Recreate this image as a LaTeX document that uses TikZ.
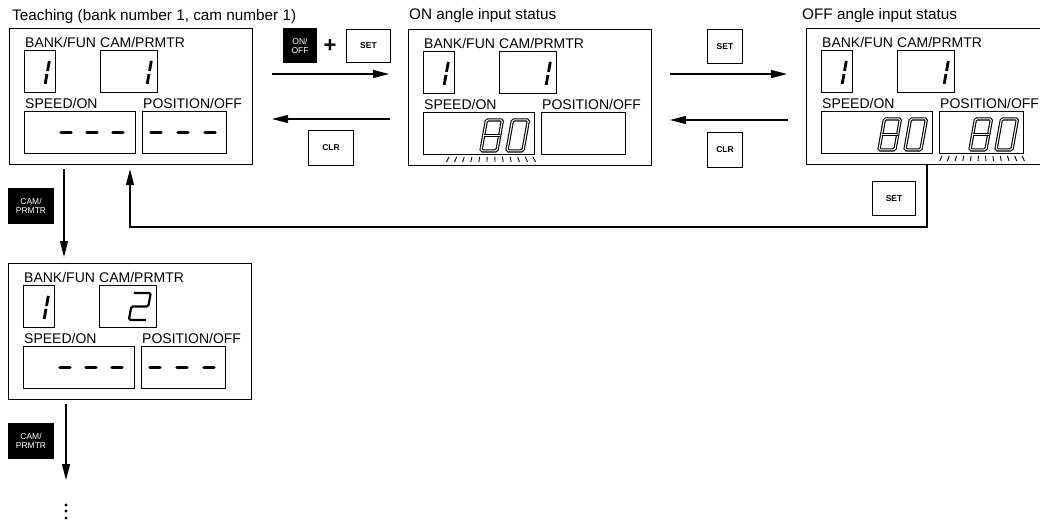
\documentclass[tikz,border=0pt]{standalone}
\usepackage{fontspec}
\setmainfont{Liberation Sans}
\usetikzlibrary{arrows.meta}

\tikzset{
  panel/.style={draw, line width=1.2pt, anchor=north west, minimum width=243pt, minimum height=136pt, inner sep=0pt},
  disp/.style={draw, line width=0.9pt, anchor=north west, minimum height=42pt, inner sep=0pt},
  lbl/.style={anchor=base west, inner sep=0pt, font=\fontsize{14}{14}\selectfont},
  heading/.style={anchor=base west, inner sep=0pt, font=\fontsize{15.3}{15.3}\selectfont},
  key/.style={draw, line width=1pt, anchor=north west, inner sep=0pt, font=\bfseries\fontsize{8.5}{9}\selectfont},
  blackkey/.style={key, fill=black, text=white, align=center, font=\fontsize{8.5}{9}\selectfont},
  flow/.style={->, line width=1.2pt},
  seg/.style={line width=2.8pt},
  lit/.style={double, line width=1.1pt, double distance=1.1pt, rounded corners=1.5pt},
  bar/.style={line width=3.4pt, line cap=round},
  tick/.style={line width=0.9pt},
  digit/.style={xslant=0.18},
  pics/one/.style={code={\draw[seg] (0,-1) -- (0,-11) (0,-14) -- (0,-24);}},
  pics/two/.style={code={\draw[line width=2.2pt, rounded corners=1.5pt] (0,-27) -- (17,-27) -- (17,-13.5) -- (0,-13.5) -- (0,0) -- (17,0);}},
  pics/eight/.style={code={\draw[lit] (0,0) rectangle (16,-31); \draw[lit] (0,-15.5) -- (16,-15.5);}},
  pics/zero/.style={code={\draw[lit] (0,0) rectangle (16,-31);}},
}

\begin{document}
\begin{tikzpicture}[x=1pt, y=-1pt, >={Triangle[length=16pt, width=8pt]}]
    \useasboundingbox (0,0) rectangle (1040,525);
    \clip (0,0) rectangle (1040,525);

    % Titles of the three states
    \node[heading] (t1) at (12,20) {Teaching (bank number 1, cam number 1)};
    \node[heading] (t2) at (409,19) {ON angle input status};
    \node[heading] (t3) at (802,19) {OFF angle input status};

    % 1. Display panels (same layout four times)
    \foreach \n/\x/\y in {p1/9/28, p2/408/29, p3/806/28, p4/8/263} {
        \node[panel] (\n) at (\x,\y) {};
        \node[disp, minimum width=31pt] (\n-bank) at (\x+15,\y+22) {};
        \node[disp, minimum width=57pt] (\n-cam) at (\x+91,\y+22) {};
        \node[disp, minimum width=111pt] (\n-speed) at (\x+15,\y+83) {};
        \node[disp, minimum width=84pt] (\n-pos) at (\x+133,\y+83) {};
        \node[lbl] (\n-lb) at ([shift={(1pt,3pt)}]\n-bank.north west) {BANK/FUN};
        \node[lbl] (\n-lc) at ([shift={(0pt,3pt)}]\n-cam.north west) {CAM/PRMTR};
        \node[lbl] (\n-ls) at ([shift={(1pt,3pt)}]\n-speed.north west) {SPEED/ON};
        \node[lbl] (\n-lp) at ([shift={(1pt,3pt)}]\n-pos.north west) {POSITION/OFF};
    }

    % Segment digits
    \foreach \n in {p1,p2,p3,p4} \pic[digit] at ([shift={(21pt,8pt)}]\n-bank.south west) {one};
    \foreach \n in {p1,p2,p3} \pic[digit] at ([shift={(47pt,8pt)}]\n-cam.south west) {one};
    \pic[digit] at ([shift={(-28pt,8pt)}]p4-cam.south east) {two};
    \foreach \b in {p2-speed,p3-speed,p3-pos} {
        \pic[digit] at ([shift={(-54pt,4pt)}]\b.south east) {eight};
        \pic[digit] at ([shift={(-28pt,4pt)}]\b.south east) {zero};
    }

    % Empty values "- - -"
    \foreach \n in {p1,p4} {
        \foreach \c in {42,68,94} \draw[bar] ([xshift=\c-5]\n-speed.west) -- ++(10,0);
        \foreach \c in {14,41,68} \draw[bar] ([xshift=\c-5]\n-pos.west) -- ++(10,0);
    }

    % Blinking marks under the value being set
    \foreach \b/\s/\e in {p2-speed/26/110, p3-pos/3/83} {
        \begin{scope}[shift={(\b.south west)}]
            \foreach \i in {0,...,11} {
                \pgfmathsetmacro\tx{\s+\i*(\e-\s)/11}
                \pgfmathsetmacro\tb{\tx+(\tx-(\s+\e)/2)*0.06}
                \draw[tick] (\tx,2) -- (\tb,7);
            }
        \end{scope}
    }

    % 2. Keys
    \node[blackkey, minimum width=33pt, minimum height=34pt] (onoff) at (283,28) {ON/\\OFF};
    \node (plus) at (330,46) {\bfseries\fontsize{22}{22}\selectfont +};
    \node[key, minimum width=44pt, minimum height=33pt] (set1) at (346,29) {SET};
    \node[key, minimum width=45pt, minimum height=35pt] (clr1) at (308,130) {CLR};
    \node[key, minimum width=35pt, minimum height=34pt] (set2) at (707,29) {SET};
    \node[key, minimum width=35pt, minimum height=35pt] (clr2) at (707,132) {CLR};
    \node[key, minimum width=43pt, minimum height=34pt] (set3) at (872,181) {SET};
    \node[blackkey, minimum width=45pt, minimum height=35pt] (cam1) at (8,188) {CAM/\\PRMTR};
    \node[blackkey, minimum width=45pt, minimum height=35pt] (cam2) at (8,423) {CAM/\\PRMTR};

    % 3. Transitions between the panels
    \coordinate (r1a) at (272,74);  \coordinate (r1b) at (389,74);
    \coordinate (l1a) at (390,119); \coordinate (l1b) at (272,119);
    \coordinate (r2a) at (670,74);  \coordinate (r2b) at (787,74);
    \coordinate (l2a) at (788,120); \coordinate (l2b) at (670,120);
    \draw[flow] (r1a) -- (r1b);
    \draw[flow] (l1a) -- (l1b);
    \draw[flow] (r2a) -- (r2b);
    \draw[flow] (l2a) -- (l2b);

    % back to teaching after SET
    \coordinate (fb) at (130,227);
    \draw[flow, shorten >=4pt] ([xshift=121pt]p3.south west) |- (fb) -- ([xshift=121pt]p1.south west);

    % next cam number
    \draw[flow, shorten <=4pt, shorten >=6pt] ([xshift=55pt]p1.south west) -- ([xshift=56pt]p4.north west);
    \coordinate (more) at (66,480);
    \draw[flow, shorten <=4pt] ([xshift=58pt]p4.south west) -- (more);
    \foreach \k in {505,511,518} \fill (66,\k) circle (1.6pt);

\end{tikzpicture}
\end{document}
